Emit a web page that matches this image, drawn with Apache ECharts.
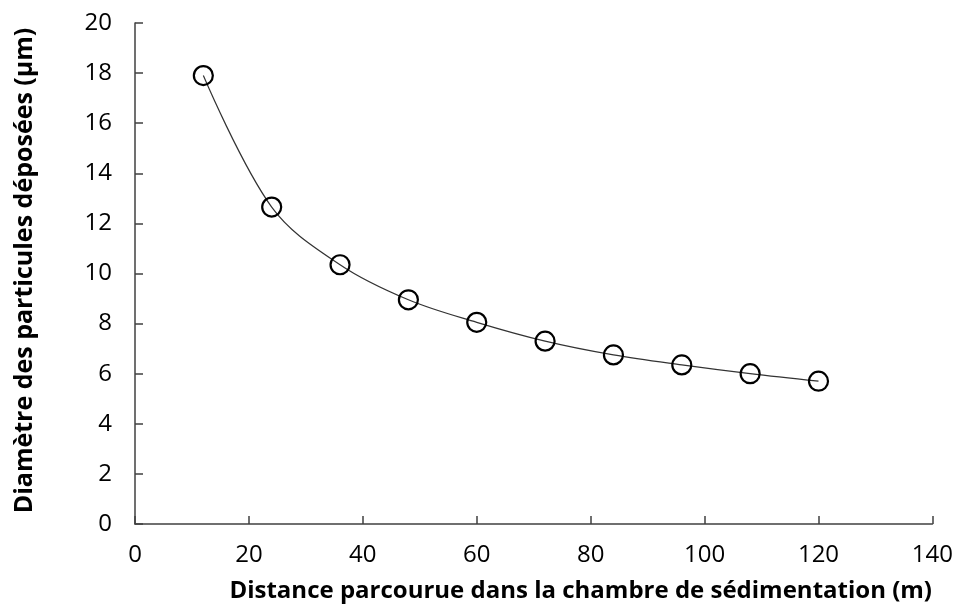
<!DOCTYPE html>
<html><head><meta charset="utf-8">
<script src="https://cdn.jsdelivr.net/npm/echarts@6/dist/echarts.min.js"></script>
<style>html,body{margin:0;padding:0;background:#fff}#c{width:956px;height:610px}</style>
</head><body><div id="c"></div>
<script>
const distances = [12, 24, 36, 48, 60, 72, 84, 96, 108, 120];
const diameters = [17.9, 12.65, 10.35, 8.95, 8.05, 7.3, 6.75, 6.35, 6.0, 5.7];
const xTitle = 'Distance parcourue dans la chambre de sédimentation (m)';
const yTitle = 'Diamètre des particules déposées (µm)';

const chart = echarts.init(document.getElementById('c'));
const font = 'Open Sans';
chart.setOption({
  animation: false,
  backgroundColor: '#fff',
  grid: {left: 135, right: 23, top: 23, bottom: 86},
  xAxis: {
    type: 'value', min: 0, max: 140, interval: 20,
    name: xTitle, nameLocation: 'middle', nameGap: 55,
    nameTextStyle: {fontFamily: font, fontWeight: 'bold', fontSize: 24, color: '#000', padding: [0, 0, 0, 94]},
    axisLine: {show: true, lineStyle: {color: '#404040', width: 1.5}},
    axisTick: {show: true, inside: true, length: 8, lineStyle: {color: '#404040', width: 1.5}},
    axisLabel: {fontFamily: font, fontSize: 24, color: '#000', margin: 19},
    splitLine: {show: false}
  },
  yAxis: {
    type: 'value', min: 0, max: 20, interval: 2,
    name: yTitle, nameLocation: 'middle', nameGap: 98, nameRotate: 90,
    nameTextStyle: {fontFamily: font, fontWeight: 'bold', fontSize: 25, color: '#000', padding: [0, 0, 0, 6]},
    axisLine: {show: true, lineStyle: {color: '#404040', width: 1.5}},
    axisTick: {show: true, inside: true, length: 8, lineStyle: {color: '#404040', width: 1.5}},
    axisLabel: {fontFamily: font, fontSize: 24, color: '#000', margin: 23},
    splitLine: {show: false}
  },
  series: [{
    type: 'line',
    data: distances.map((d, i) => [d, diameters[i]]),
    smooth: 0.35,
    symbol: 'circle', symbolSize: 19,
    itemStyle: {color: 'rgba(0,0,0,0)', borderColor: '#000', borderWidth: 2.2},
    lineStyle: {color: '#333', width: 1.2}
  }]
});
</script></body></html>
